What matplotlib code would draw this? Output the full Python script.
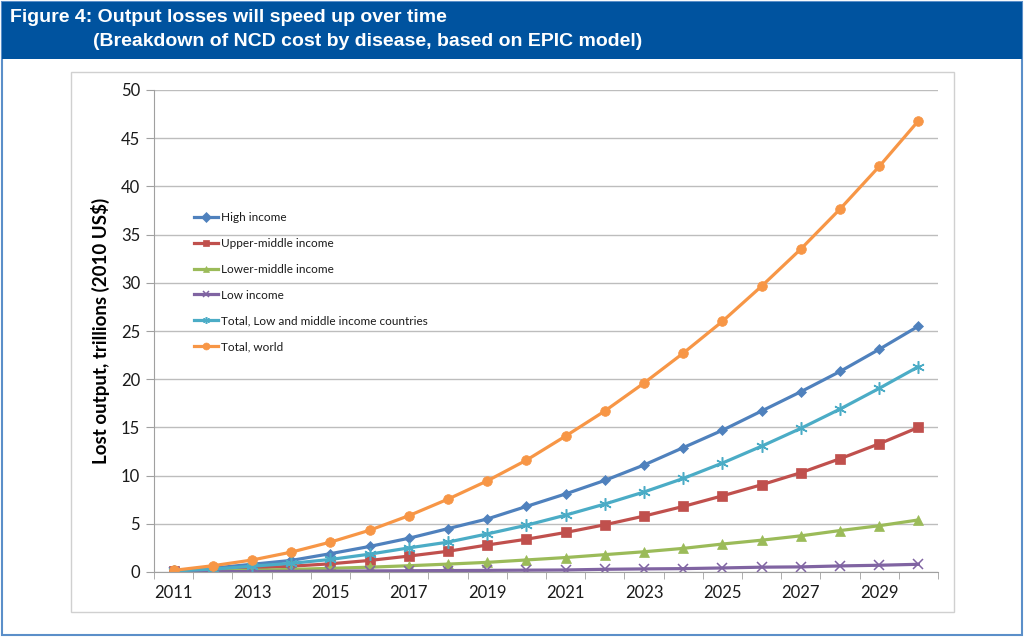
import numpy as np
import matplotlib
matplotlib.use("Agg")
import matplotlib.pyplot as plt
from matplotlib.patches import Rectangle

# Данные
years = list(range(2011, 2031))
high_income = [0.12, 0.4, 0.8, 1.2, 1.9, 2.65, 3.5, 4.5, 5.5, 6.8,
               8.1, 9.5, 11.1, 12.9, 14.7, 16.7, 18.7, 20.8, 23.1, 25.5]
upper_middle = [0.07, 0.2, 0.4, 0.6, 0.85, 1.2, 1.65, 2.15, 2.8, 3.4,
                4.1, 4.9, 5.8, 6.8, 7.9, 9.05, 10.3, 11.75, 13.3, 15.0]
lower_middle = [0.03, 0.1, 0.17, 0.27, 0.38, 0.5, 0.65, 0.82, 1.0, 1.25,
                1.5, 1.8, 2.1, 2.45, 2.9, 3.3, 3.75, 4.3, 4.8, 5.4]
low_income = [0.01, 0.03, 0.05, 0.07, 0.09, 0.11, 0.13, 0.15, 0.17, 0.19,
              0.21, 0.28, 0.32, 0.35, 0.42, 0.5, 0.53, 0.63, 0.7, 0.8]
total_lmic = [0.1, 0.3, 0.6, 0.9, 1.3, 1.85, 2.5, 3.1, 3.95, 4.85,
              5.9, 7.05, 8.3, 9.7, 11.3, 13.05, 14.9, 16.9, 19.05, 21.3]
total_world = [0.17, 0.65, 1.24, 2.06, 3.1, 4.33, 5.84, 7.56, 9.45, 11.6,
               14.1, 16.7, 19.6, 22.7, 26.0, 29.65, 33.5, 37.65, 42.07, 46.8]

series = [
    ("High income", high_income, "#4F81BD", "D", 5),
    ("Upper-middle income", upper_middle, "#C0504D", "s", 7),
    ("Lower-middle income", lower_middle, "#9BBB59", "^", 7),
    ("Low income", low_income, "#8064A2", "x", 7),
    ("Total, Low and middle income countries", total_lmic, "#4BACC6", (6, 2, 0), 9),
    ("Total, world", total_world, "#F79646", "o", 7),
]

W, H = 1024, 637
fig = plt.figure(figsize=(W / 100, H / 100), dpi=100)


def px_rect(x0, y0, x1, y1):
    # пиксели (сверху вниз) -> доли фигуры
    return [x0 / W, 1 - y1 / H, (x1 - x0) / W, (y1 - y0) / H]


# рамка и заголовок (под осями)
fig.patches.append(Rectangle((2 / W, 1 - 635 / H), 1020 / W, 633 / H, transform=fig.transFigure,
                             facecolor="white", edgecolor="#5B8FC9", linewidth=1.5, zorder=-3))
fig.patches.append(Rectangle((2 / W, 1 - 59 / H), 1020 / W, 57 / H, transform=fig.transFigure,
                             facecolor="#00539F", edgecolor="none", zorder=-2))
fig.patches.append(Rectangle((71 / W, 1 - 612 / H), (954 - 71) / W, (612 - 72) / H,
                             transform=fig.transFigure, facecolor="none",
                             edgecolor="#D0D0D0", linewidth=1, zorder=-2))

title_font = dict(color="white", fontweight="bold", fontsize=14,
                  family=["Liberation Sans Narrow", "Liberation Sans", "DejaVu Sans"])
fig.text(10 / W, 1 - 17 / H, "Figure 4: Output losses will speed up over time",
         va="center", ha="left", **title_font)
fig.text(93 / W, 1 - 41 / H, "(Breakdown of NCD cost by disease, based on EPIC model)",
         va="center", ha="left", **title_font)

ax = fig.add_axes(px_rect(154, 90, 938, 572))
ax.patch.set_alpha(0)
x = np.arange(len(years))
for name, vals, color, marker, ms in series:
    thin = marker in ("x", (6, 2, 0))
    ax.plot(x, vals, color=color, linewidth=2.3, marker=marker, markersize=ms,
            markeredgewidth=1.1 if thin else 0.5,
            markeredgecolor=color, label=name)

ax.set_xlim(-0.5, len(years) - 0.5)
ax.set_ylim(0, 50)
ax.set_yticks(np.arange(0, 51, 5))
ax.set_xticks(x[::2])
ax.set_xticklabels([str(y) for y in years[::2]])
ax.set_xticks(np.arange(-0.5, len(years), 1), minor=True)
ax.tick_params(axis="x", which="major", length=0, pad=9)
ax.tick_params(axis="x", which="minor", length=5, color="#A0A0A0", direction="out")
ax.tick_params(axis="y", length=6, color="#A0A0A0", direction="out", pad=4)
for lab in ax.get_xticklabels() + ax.get_yticklabels():
    lab.set_family(["Lato", "DejaVu Sans"])
    lab.set_fontsize(12)
    lab.set_color("#1A1A1A")

ax.grid(axis="y", color="#BDBDBD", linewidth=1)
ax.set_axisbelow(True)
for side in ("top", "right"):
    ax.spines[side].set_visible(False)
for side in ("left", "bottom"):
    ax.spines[side].set_color("#A0A0A0")

ax.set_ylabel("Lost output, trillions (2010 US$)", fontsize=13.5, fontweight="bold",
              family=["Lato", "DejaVu Sans"], labelpad=8)

leg = ax.legend(loc="upper left", bbox_to_anchor=(0.045, 0.756), frameon=False,
                prop={"family": ["Lato", "DejaVu Sans"], "size": 8.5},
                handlelength=2.0, handletextpad=0.25, labelspacing=1.25, borderaxespad=0)
for h in leg.legend_handles:
    h.set_markersize(5)
for t in leg.get_texts():
    t.set_color("#1A1A1A")

fig.savefig("out.png", dpi=100)
